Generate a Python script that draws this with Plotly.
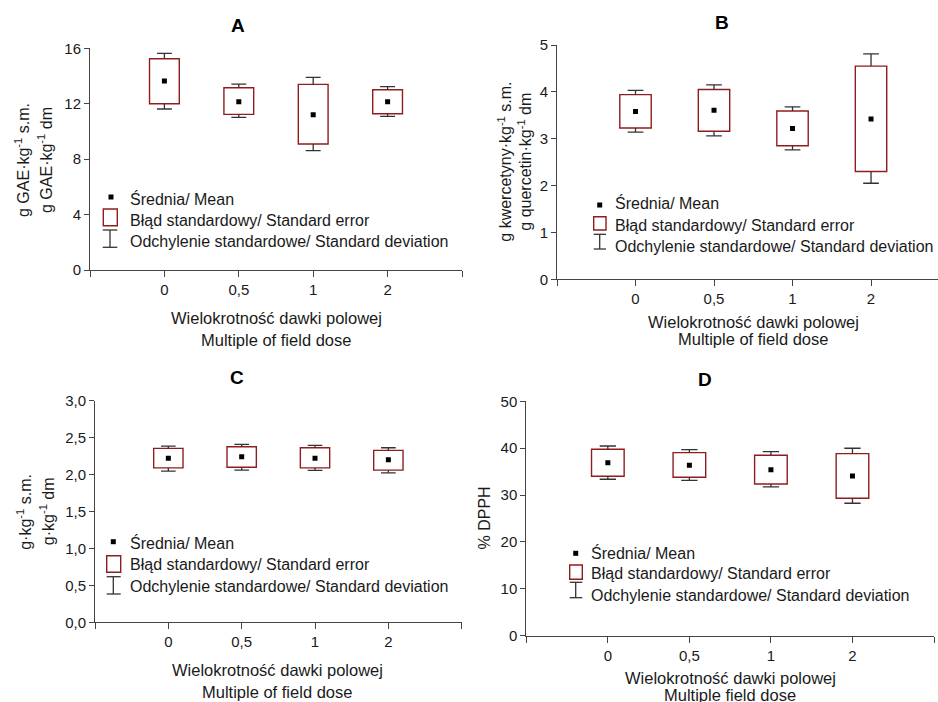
import plotly.graph_objects as go

W, H = 938, 702

# ---------------- data ----------------
doses = ["0", "0,5", "1", "2"]

# A: total phenolics, g GAE/kg dm
a_mean = [13.64, 12.14, 11.21, 12.14]
a_se_lo = [12.00, 11.23, 9.09, 11.28]
a_se_hi = [15.25, 13.15, 13.40, 13.01]
a_sd_lo = [11.62, 11.02, 8.61, 11.09]
a_sd_hi = [15.63, 13.42, 13.90, 13.23]

# B: flavonoids, g quercetin/kg dm
b_mean = [3.58, 3.61, 3.22, 3.42]
b_se_lo = [3.23, 3.16, 2.85, 2.30]
b_se_hi = [3.94, 4.05, 3.59, 4.55]
b_sd_lo = [3.14, 3.06, 2.76, 2.05]
b_sd_hi = [4.03, 4.15, 3.68, 4.81]

# C: g/kg dm
c_mean = [2.22, 2.24, 2.22, 2.20]
c_se_lo = [2.09, 2.10, 2.09, 2.06]
c_se_hi = [2.355, 2.377, 2.363, 2.327]
c_sd_lo = [2.047, 2.061, 2.057, 2.024]
c_sd_hi = [2.386, 2.408, 2.395, 2.363]

# D: % DPPH
d_mean = [36.91, 36.35, 35.42, 34.07]
d_se_lo = [34.00, 33.79, 32.37, 29.31]
d_se_hi = [39.76, 39.05, 38.48, 38.83]
d_sd_lo = [33.37, 33.15, 31.73, 28.25]
d_sd_hi = [40.47, 39.69, 39.26, 39.98]

leg_mean = "Średnia/ Mean"
leg_se = "Błąd standardowy/ Standard error"
leg_sd = "Odchylenie standardowe/ Standard deviation"
x_title_pl = "Wielokrotność dawki polowej"
x_title_en = "Multiple of field dose"
x_title_en_d = "Multiple field dose"

# ---------------- styling ----------------
FONT = "Arial, Liberation Sans, sans-serif"
BOX_COL = "#8f1d1d"
WH_COL = "#333333"
AX_COL = "#444444"
TXT = "#1a1a1a"


def px(x):
    return x / W


def py(y):
    return 1 - y / H


fig = go.Figure()
shapes = []
annotations = []

panels = [
    dict(name="A", mean=a_mean, se_lo=a_se_lo, se_hi=a_se_hi, sd_lo=a_sd_lo, sd_hi=a_sd_hi,
         xd=(90, 462), yd=(48.3, 270), xr=[0, 5], yr=[0, 16], dtick=4, fmt="d",
         title=(237.7, 25),
         ytitle=["g GAE·kg<sup>-1</sup> s.m.", "g GAE·kg<sup>-1</sup> dm"], ytx=[22, 45], yty=160,
         xt=(276, 318, 340, x_title_en),
         leg=dict(tx=127.7, rows=[199, 220.7, 241.3], mean=(111, 197),
                  se=(103.3, 209, 117.3, 225.7), sd=(110, 230, 247.3, 102.7, 117.3))),
    dict(name="B", mean=b_mean, se_lo=b_se_lo, se_hi=b_se_hi, sd_lo=b_sd_lo, sd_hi=b_sd_hi,
         xd=(557, 938), yd=(45, 279.3), xr=[0, 4.853], yr=[0, 5], dtick=1, fmt="d",
         title=(722, 22.7),
         ytitle=["g kwercetyny·kg<sup>-1</sup> s.m.", "g quercetin·kg<sup>-1</sup> dm"], ytx=[504.7, 524.7], yty=162,
         xt=(753, 321.7, 339, x_title_en),
         leg=dict(tx=613, rows=[203, 225.7, 246.7], mean=(599.7, 205),
                  se=(593.7, 216.7, 606, 230), sd=(599.7, 234.3, 249, 593.7, 606))),
    dict(name="C", mean=c_mean, se_lo=c_se_lo, se_hi=c_se_hi, sd_lo=c_sd_lo, sd_hi=c_sd_hi,
         xd=(95, 461.7), yd=(400.7, 622.3), xr=[0, 5], yr=[0, 3], dtick=0.5, fmt=".1f",
         title=(237.3, 377.7),
         ytitle=["g·kg<sup>-1</sup> s.m.", "g·kg<sup>-1</sup> dm"], ytx=[23.3, 46.7], yty=511.5,
         xt=(277, 670, 691.7, x_title_en),
         leg=dict(tx=128.3, rows=[542.7, 564.7, 586], mean=(113.3, 541.7),
                  se=(106.7, 555.7, 120.7, 572.3), sd=(113.3, 576.7, 594, 106.7, 120.7))),
    dict(name="D", mean=d_mean, se_lo=d_se_lo, se_hi=d_se_hi, sd_lo=d_sd_lo, sd_hi=d_sd_hi,
         xd=(526.3, 934), yd=(401.3, 635.7), xr=[0, 5], yr=[0, 50], dtick=10, fmt="d",
         title=(705.3, 379),
         ytitle=["% DPPH"], ytx=[484], yty=518.5,
         xt=(730, 678.3, 695, x_title_en_d),
         leg=dict(tx=589, rows=[552.7, 573.3, 595.7], mean=(575.7, 553.3),
                  se=(569.7, 565, 582.3, 579.3), sd=(575.7, 582.3, 597.7, 569.7, 582.3))),
]

layout_axes = {}
for i, p in enumerate(panels):
    n = "" if i == 0 else str(i + 1)
    xa, ya = "x" + n, "y" + n
    pos = [k + 1 for k in range(len(doses))]

    # standard error boxes
    fig.add_trace(go.Bar(
        x=pos, y=[h - l for h, l in zip(p["se_hi"], p["se_lo"])], base=p["se_lo"],
        width=0.4, marker=dict(color="white", line=dict(color=BOX_COL, width=1.4)),
        xaxis=xa, yaxis=ya, showlegend=False, hoverinfo="skip"))

    # standard deviation whiskers
    wx, wy = [], []
    for xk, shi, dhi, slo, dlo in zip(pos, p["se_hi"], p["sd_hi"], p["se_lo"], p["sd_lo"]):
        wx += [xk, xk, None, xk - 0.1, xk + 0.1, None, xk, xk, None, xk - 0.1, xk + 0.1, None]
        wy += [shi, dhi, None, dhi, dhi, None, slo, dlo, None, dlo, dlo, None]
    fig.add_trace(go.Scatter(x=wx, y=wy, mode="lines", line=dict(color=WH_COL, width=1.3),
                             xaxis=xa, yaxis=ya, showlegend=False, hoverinfo="skip"))

    # means
    fig.add_trace(go.Scatter(x=pos, y=p["mean"], mode="markers",
                             marker=dict(symbol="square", size=5, color="black"),
                             xaxis=xa, yaxis=ya, showlegend=False))

    tickfont = dict(family=FONT, size=15, color=TXT)
    layout_axes["xaxis" + n] = dict(
        domain=[px(p["xd"][0]), px(p["xd"][1])], range=p["xr"], anchor=ya,
        tickvals=[0, 1, 2, 3, 4, 5], ticktext=[" "] + doses + [" "],
        ticks="outside", ticklen=6, tickcolor=AX_COL, tickwidth=1,
        showline=True, linecolor=AX_COL, linewidth=1, showgrid=False, zeroline=False,
        tickfont=tickfont, fixedrange=True, automargin=False)
    layout_axes["yaxis" + n] = dict(
        domain=[py(p["yd"][1]), py(p["yd"][0])], range=p["yr"], anchor=xa,
        dtick=p["dtick"], tick0=0, tickformat=p["fmt"],
        ticks="outside", ticklen=5, tickcolor=AX_COL, tickwidth=1,
        showline=True, linecolor=AX_COL, linewidth=1, showgrid=False, zeroline=False,
        tickfont=tickfont, fixedrange=True, automargin=False)

    # panel title
    annotations.append(dict(x=px(p["title"][0]), y=py(p["title"][1]), xref="paper", yref="paper",
                            text="<b>%s</b>" % p["name"], showarrow=False, xanchor="center",
                            yanchor="middle", font=dict(family=FONT, size=19, color="black")))
    # y titles
    for t, xx in zip(p["ytitle"], p["ytx"]):
        annotations.append(dict(x=px(xx), y=py(p["yty"]), xref="paper", yref="paper", text=t,
                                textangle=-90, showarrow=False, xanchor="center", yanchor="middle",
                                font=dict(family=FONT, size=16, color=TXT)))
    # x titles
    xc, y1, y2, en = p["xt"]
    for t, yy in [(x_title_pl, y1), (en, y2)]:
        annotations.append(dict(x=px(xc), y=py(yy), xref="paper", yref="paper", text=t,
                                showarrow=False, xanchor="center", yanchor="middle",
                                font=dict(family=FONT, size=16.5, color=TXT)))

    # custom legend
    lg = p["leg"]
    for t, yy in zip([leg_mean, leg_se, leg_sd], lg["rows"]):
        annotations.append(dict(x=px(lg["tx"]), y=py(yy), xref="paper", yref="paper", text=t,
                                showarrow=False, xanchor="left", yanchor="middle",
                                font=dict(family=FONT, size=16, color=TXT)))
    mx, my = lg["mean"]
    shapes.append(dict(type="rect", xref="paper", yref="paper", x0=px(mx - 2.5), x1=px(mx + 2.5),
                       y0=py(my + 2.5), y1=py(my - 2.5), fillcolor="black", line=dict(width=0)))
    sx0, sy0, sx1, sy1 = lg["se"]
    shapes.append(dict(type="rect", xref="paper", yref="paper", x0=px(sx0), x1=px(sx1),
                       y0=py(sy1), y1=py(sy0), fillcolor="white",
                       line=dict(color=BOX_COL, width=1.4)))
    dx, dy0, dy1, cx0, cx1 = lg["sd"]
    for seg in [(dx, dy0, dx, dy1), (cx0, dy0, cx1, dy0), (cx0, dy1, cx1, dy1)]:
        shapes.append(dict(type="line", xref="paper", yref="paper", x0=px(seg[0]), y0=py(seg[1]),
                           x1=px(seg[2]), y1=py(seg[3]), line=dict(color=WH_COL, width=1.3)))

fig.update_layout(
    width=W, height=H, margin=dict(l=0, r=0, t=0, b=0, autoexpand=False),
    paper_bgcolor="white", plot_bgcolor="white",
    separators=", ", barmode="overlay", showlegend=False,
    shapes=shapes, annotations=annotations, **layout_axes)

fig.write_html("out.html", config={"displayModeBar": False},
               post_script="document.body.style.margin='0px';")
